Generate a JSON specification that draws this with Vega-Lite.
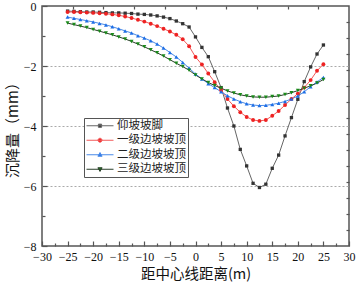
{
"$schema":"https://vega.github.io/schema/vega-lite/v6.json",
"width":307,"height":240,
"autosize":{"type":"none"},
"padding":{"left":42,"top":6,"right":9,"bottom":39},
"background":"white",
"config":{"view":{"stroke":"#555","strokeWidth":1.5},"font":"Liberation Serif"},
"datasets":{"d":[
{"s":"仰坡坡脚","x":-25,"y":-0.17},{"s":"仰坡坡脚","x":-23.75,"y":-0.18},{"s":"仰坡坡脚","x":-22.5,"y":-0.19},{"s":"仰坡坡脚","x":-21.25,"y":-0.2},{"s":"仰坡坡脚","x":-20,"y":-0.2},{"s":"仰坡坡脚","x":-18.75,"y":-0.21},{"s":"仰坡坡脚","x":-17.5,"y":-0.22},{"s":"仰坡坡脚","x":-16.25,"y":-0.23},{"s":"仰坡坡脚","x":-15,"y":-0.23},{"s":"仰坡坡脚","x":-13.75,"y":-0.24},{"s":"仰坡坡脚","x":-12.5,"y":-0.25},{"s":"仰坡坡脚","x":-11.25,"y":-0.27},{"s":"仰坡坡脚","x":-10,"y":-0.28},{"s":"仰坡坡脚","x":-8.75,"y":-0.3},{"s":"仰坡坡脚","x":-7.5,"y":-0.33},{"s":"仰坡坡脚","x":-6.25,"y":-0.37},{"s":"仰坡坡脚","x":-5,"y":-0.42},{"s":"仰坡坡脚","x":-3.75,"y":-0.5},{"s":"仰坡坡脚","x":-2.5,"y":-0.59},{"s":"仰坡坡脚","x":-1.25,"y":-0.7},{"s":"仰坡坡脚","x":0,"y":-1.03},{"s":"仰坡坡脚","x":1.25,"y":-1.38},{"s":"仰坡坡脚","x":2.5,"y":-1.69},{"s":"仰坡坡脚","x":3.75,"y":-2.19},{"s":"仰坡坡脚","x":5,"y":-2.72},{"s":"仰坡坡脚","x":6.25,"y":-3.4},{"s":"仰坡坡脚","x":7.5,"y":-4.0},{"s":"仰坡坡脚","x":8.75,"y":-4.78},{"s":"仰坡坡脚","x":10,"y":-5.33},{"s":"仰坡坡脚","x":11.25,"y":-5.91},{"s":"仰坡坡脚","x":12.5,"y":-6.05},{"s":"仰坡坡脚","x":13.75,"y":-5.94},{"s":"仰坡坡脚","x":15,"y":-5.41},{"s":"仰坡坡脚","x":16.25,"y":-4.97},{"s":"仰坡坡脚","x":17.5,"y":-4.33},{"s":"仰坡坡脚","x":18.75,"y":-3.72},{"s":"仰坡坡脚","x":20,"y":-3.11},{"s":"仰坡坡脚","x":21.25,"y":-2.52},{"s":"仰坡坡脚","x":22.5,"y":-2.03},{"s":"仰坡坡脚","x":23.75,"y":-1.6},{"s":"仰坡坡脚","x":25,"y":-1.3},
{"s":"一级边坡坡顶","x":-25,"y":-0.2},{"s":"一级边坡坡顶","x":-23.75,"y":-0.2},{"s":"一级边坡坡顶","x":-22.5,"y":-0.21},{"s":"一级边坡坡顶","x":-21.25,"y":-0.22},{"s":"一级边坡坡顶","x":-20,"y":-0.23},{"s":"一级边坡坡顶","x":-18.75,"y":-0.24},{"s":"一级边坡坡顶","x":-17.5,"y":-0.26},{"s":"一级边坡坡顶","x":-16.25,"y":-0.28},{"s":"一级边坡坡顶","x":-15,"y":-0.31},{"s":"一级边坡坡顶","x":-13.75,"y":-0.35},{"s":"一级边坡坡顶","x":-12.5,"y":-0.4},{"s":"一级边坡坡顶","x":-11.25,"y":-0.46},{"s":"一级边坡坡顶","x":-10,"y":-0.52},{"s":"一级边坡坡顶","x":-8.75,"y":-0.59},{"s":"一级边坡坡顶","x":-7.5,"y":-0.67},{"s":"一级边坡坡顶","x":-6.25,"y":-0.76},{"s":"一级边坡坡顶","x":-5,"y":-0.85},{"s":"一级边坡坡顶","x":-3.75,"y":-0.96},{"s":"一级边坡坡顶","x":-2.5,"y":-1.11},{"s":"一级边坡坡顶","x":-1.25,"y":-1.34},{"s":"一级边坡坡顶","x":0,"y":-1.7},{"s":"一级边坡坡顶","x":1.25,"y":-1.95},{"s":"一级边坡坡顶","x":2.5,"y":-2.25},{"s":"一级边坡坡顶","x":3.75,"y":-2.54},{"s":"一级边坡坡顶","x":5,"y":-2.8},{"s":"一级边坡坡顶","x":6.25,"y":-3.1},{"s":"一级边坡坡顶","x":7.5,"y":-3.34},{"s":"一级边坡坡顶","x":8.75,"y":-3.54},{"s":"一级边坡坡顶","x":10,"y":-3.7},{"s":"一级边坡坡顶","x":11.25,"y":-3.8},{"s":"一级边坡坡顶","x":12.5,"y":-3.83},{"s":"一级边坡坡顶","x":13.75,"y":-3.8},{"s":"一级边坡坡顶","x":15,"y":-3.66},{"s":"一级边坡坡顶","x":16.25,"y":-3.5},{"s":"一级边坡坡顶","x":17.5,"y":-3.3},{"s":"一级边坡坡顶","x":18.75,"y":-3.1},{"s":"一级边坡坡顶","x":20,"y":-2.92},{"s":"一级边坡坡顶","x":21.25,"y":-2.72},{"s":"一级边坡坡顶","x":22.5,"y":-2.47},{"s":"一级边坡坡顶","x":23.75,"y":-2.16},{"s":"一级边坡坡顶","x":25,"y":-1.94},
{"s":"二级边坡坡顶","x":-25,"y":-0.37},{"s":"二级边坡坡顶","x":-23.75,"y":-0.41},{"s":"二级边坡坡顶","x":-22.5,"y":-0.45},{"s":"二级边坡坡顶","x":-21.25,"y":-0.49},{"s":"二级边坡坡顶","x":-20,"y":-0.53},{"s":"二级边坡坡顶","x":-18.75,"y":-0.58},{"s":"二级边坡坡顶","x":-17.5,"y":-0.63},{"s":"二级边坡坡顶","x":-16.25,"y":-0.69},{"s":"二级边坡坡顶","x":-15,"y":-0.76},{"s":"二级边坡坡顶","x":-13.75,"y":-0.83},{"s":"二级边坡坡顶","x":-12.5,"y":-0.9},{"s":"二级边坡坡顶","x":-11.25,"y":-0.99},{"s":"二级边坡坡顶","x":-10,"y":-1.07},{"s":"二级边坡坡顶","x":-8.75,"y":-1.16},{"s":"二级边坡坡顶","x":-7.5,"y":-1.27},{"s":"二级边坡坡顶","x":-6.25,"y":-1.4},{"s":"二级边坡坡顶","x":-5,"y":-1.55},{"s":"二级边坡坡顶","x":-3.75,"y":-1.7},{"s":"二级边坡坡顶","x":-2.5,"y":-1.88},{"s":"二级边坡坡顶","x":-1.25,"y":-2.07},{"s":"二级边坡坡顶","x":0,"y":-2.27},{"s":"二级边坡坡顶","x":1.25,"y":-2.43},{"s":"二级边坡坡顶","x":2.5,"y":-2.59},{"s":"二级边坡坡顶","x":3.75,"y":-2.72},{"s":"二级边坡坡顶","x":5,"y":-2.86},{"s":"二级边坡坡顶","x":6.25,"y":-2.99},{"s":"二级边坡坡顶","x":7.5,"y":-3.1},{"s":"二级边坡坡顶","x":8.75,"y":-3.19},{"s":"二级边坡坡顶","x":10,"y":-3.26},{"s":"二级边坡坡顶","x":11.25,"y":-3.3},{"s":"二级边坡坡顶","x":12.5,"y":-3.32},{"s":"二级边坡坡顶","x":13.75,"y":-3.31},{"s":"二级边坡坡顶","x":15,"y":-3.28},{"s":"二级边坡坡顶","x":16.25,"y":-3.24},{"s":"二级边坡坡顶","x":17.5,"y":-3.18},{"s":"二级边坡坡顶","x":18.75,"y":-3.1},{"s":"二级边坡坡顶","x":20,"y":-3.0},{"s":"二级边坡坡顶","x":21.25,"y":-2.86},{"s":"二级边坡坡顶","x":22.5,"y":-2.69},{"s":"二级边坡坡顶","x":23.75,"y":-2.53},{"s":"二级边坡坡顶","x":25,"y":-2.38},
{"s":"三级边坡坡顶","x":-25,"y":-0.57},{"s":"三级边坡坡顶","x":-23.75,"y":-0.62},{"s":"三级边坡坡顶","x":-22.5,"y":-0.67},{"s":"三级边坡坡顶","x":-21.25,"y":-0.72},{"s":"三级边坡坡顶","x":-20,"y":-0.78},{"s":"三级边坡坡顶","x":-18.75,"y":-0.84},{"s":"三级边坡坡顶","x":-17.5,"y":-0.9},{"s":"三级边坡坡顶","x":-16.25,"y":-0.96},{"s":"三级边坡坡顶","x":-15,"y":-1.03},{"s":"三级边坡坡顶","x":-13.75,"y":-1.1},{"s":"三级边坡坡顶","x":-12.5,"y":-1.18},{"s":"三级边坡坡顶","x":-11.25,"y":-1.27},{"s":"三级边坡坡顶","x":-10,"y":-1.36},{"s":"三级边坡坡顶","x":-8.75,"y":-1.46},{"s":"三级边坡坡顶","x":-7.5,"y":-1.56},{"s":"三级边坡坡顶","x":-6.25,"y":-1.67},{"s":"三级边坡坡顶","x":-5,"y":-1.79},{"s":"三级边坡坡顶","x":-3.75,"y":-1.91},{"s":"三级边坡坡顶","x":-2.5,"y":-2.02},{"s":"三级边坡坡顶","x":-1.25,"y":-2.14},{"s":"三级边坡坡顶","x":0,"y":-2.3},{"s":"三级边坡坡顶","x":1.25,"y":-2.43},{"s":"三级边坡坡顶","x":2.5,"y":-2.55},{"s":"三级边坡坡顶","x":3.75,"y":-2.65},{"s":"三级边坡坡顶","x":5,"y":-2.74},{"s":"三级边坡坡顶","x":6.25,"y":-2.83},{"s":"三级边坡坡顶","x":7.5,"y":-2.9},{"s":"三级边坡坡顶","x":8.75,"y":-2.96},{"s":"三级边坡坡顶","x":10,"y":-3.0},{"s":"三级边坡坡顶","x":11.25,"y":-3.03},{"s":"三级边坡坡顶","x":12.5,"y":-3.04},{"s":"三级边坡坡顶","x":13.75,"y":-3.04},{"s":"三级边坡坡顶","x":15,"y":-3.02},{"s":"三级边坡坡顶","x":16.25,"y":-3.0},{"s":"三级边坡坡顶","x":17.5,"y":-2.95},{"s":"三级边坡坡顶","x":18.75,"y":-2.89},{"s":"三级边坡坡顶","x":20,"y":-2.82},{"s":"三级边坡坡顶","x":21.25,"y":-2.74},{"s":"三级边坡坡顶","x":22.5,"y":-2.66},{"s":"三级边坡坡顶","x":23.75,"y":-2.57},{"s":"三级边坡坡顶","x":25,"y":-2.45}
]},
"data":{"name":"d"},
"resolve":{"axis":{"x":"independent","y":"independent"}},
"layer":[
{"transform":[{"filter":"datum.s == '仰坡坡脚'"}],
 "mark":{"type":"line","strokeWidth":1,"color":"#666666"},
 "encoding":{
  "x":{"field":"x","type":"quantitative","scale":{"domain":[-30,30],"nice":false,"zero":false},
   "axis":{"orient":"bottom","values":[-30,-27.5,-25,-22.5,-20,-17.5,-15,-12.5,-10,-7.5,-5,-2.5,0,2.5,5,7.5,10,12.5,15,17.5,20,22.5,25,27.5,30],
    "labelExpr":"datum.value % 5 == 0 ? datum.label : ''",
    "tickSize":{"condition":{"test":"datum.value % 5 == 0","value":-5},"value":-3},
    "labelPadding":10.5,"domain":false,"grid":false,"tickColor":"#555","tickWidth":1.2,
    "labelFont":"Liberation Serif","labelFontSize":12,"labelColor":"#111","labelFlush":false,"labelOverlap":false,
    "title":"距中心线距离(m)","titleFont":"Noto Sans CJK SC","titleFontSize":14.5,"titleFontWeight":"normal","titleColor":"#111","titlePadding":3}},
  "y":{"field":"y","type":"quantitative","scale":{"domain":[-8,0],"nice":false,"zero":false},
   "axis":{"orient":"left","values":[0,-1,-2,-3,-4,-5,-6,-7,-8],
    "labelExpr":"datum.value % 2 == 0 ? datum.label : ''",
    "tickSize":{"condition":{"test":"datum.value % 2 == 0","value":-5},"value":-3},
    "labelPadding":11,"domain":false,"tickColor":"#555","tickWidth":1.2,
    "grid":true,"gridColor":"#aaa","gridDash":[2,2],"gridWidth":1,
    "gridOpacity":{"condition":{"test":"datum.value == -2 || datum.value == -4 || datum.value == -6","value":1},"value":0},
    "labelFont":"Liberation Serif","labelFontSize":12,"labelColor":"#111","labelFlush":false,"labelOverlap":false,
    "title":"沉降量（mm）","titleFont":"Noto Sans CJK SC","titleFontSize":15,"titleFontWeight":"normal","titleColor":"#111","titlePadding":3}}
 }},
{"transform":[{"filter":"datum.s == '一级边坡坡顶'"}],
 "mark":{"type":"line","strokeWidth":1,"color":"#f25a5a"},
 "encoding":{"x":{"field":"x","type":"quantitative","axis":null},"y":{"field":"y","type":"quantitative","axis":null}}},
{"transform":[{"filter":"datum.s == '二级边坡坡顶'"}],
 "mark":{"type":"line","strokeWidth":1,"color":"#4a8ae8"},
 "encoding":{"x":{"field":"x","type":"quantitative","axis":null},"y":{"field":"y","type":"quantitative","axis":null}}},
{"transform":[{"filter":"datum.s == '三级边坡坡顶'"}],
 "mark":{"type":"line","strokeWidth":1,"color":"#2a3f2a"},
 "encoding":{"x":{"field":"x","type":"quantitative","axis":null},"y":{"field":"y","type":"quantitative","axis":null}}},
{"transform":[{"filter":"datum.s == '仰坡坡脚'"}],
 "mark":{"type":"point","shape":"square","filled":true,"color":"#333333","opacity":1,"size":11},
 "encoding":{"x":{"field":"x","type":"quantitative","axis":null},"y":{"field":"y","type":"quantitative","axis":null}}},
{"transform":[{"filter":"datum.s == '一级边坡坡顶'"}],
 "mark":{"type":"point","shape":"circle","filled":true,"color":"#ee2222","opacity":1,"size":15},
 "encoding":{"x":{"field":"x","type":"quantitative","axis":null},"y":{"field":"y","type":"quantitative","axis":null}}},
{"transform":[{"filter":"datum.s == '二级边坡坡顶'"}],
 "mark":{"type":"point","shape":"triangle-up","filled":true,"color":"#1e6fe6","opacity":1,"size":16},
 "encoding":{"x":{"field":"x","type":"quantitative","axis":null},"y":{"field":"y","type":"quantitative","axis":null}}},
{"transform":[{"filter":"datum.s == '三级边坡坡顶'"}],
 "mark":{"type":"point","shape":"triangle-down","filled":true,"color":"#1a8a1a","opacity":1,"size":16},
 "encoding":{"x":{"field":"x","type":"quantitative","axis":null},"y":{"field":"y","type":"quantitative","axis":null}}},
{"mark":{"type":"point","filled":true,"opacity":0,"size":16,"strokeWidth":1},
 "encoding":{
  "x":{"field":"x","type":"quantitative","axis":{"orient":"top","values":[-24,-18,-12,-6,0,6,12,18,24],"labels":false,"tickSize":-3,"tickColor":"#555","tickWidth":1.2,"domain":false,"grid":false,"title":null}},
  "y":{"field":"y","type":"quantitative","axis":{"orient":"right","values":[-0.533,-1.067,-1.6,-2.133,-2.667,-3.2,-3.733,-4.267,-4.8,-5.333,-5.867,-6.4,-6.933,-7.467],"labels":false,"tickSize":-3,"tickColor":"#555","tickWidth":1.2,"domain":false,"grid":false,"title":null}},
  "fill":{"field":"s","type":"nominal",
   "scale":{"domain":["仰坡坡脚","一级边坡坡顶","二级边坡坡顶","三级边坡坡顶"],"range":["#333333","#ee2222","#1e6fe6","#1a8a1a"]},
   "legend":{"orient":"none","legendX":42,"legendY":112,"title":null,"strokeColor":"#555","fillColor":"white","padding":2,
    "labelFont":"Noto Sans CJK SC","labelFontSize":11.5,"labelColor":"#222","labelLimit":300,"symbolSize":16,"symbolStrokeWidth":1,"rowPadding":1.5,"labelOffset":27,
    "encode":{"symbols":{"update":{"x":{"value":14},"stroke":{"signal":"datum.value == '仰坡坡脚' ? '#666666' : datum.value == '一级边坡坡顶' ? '#f25a5a' : datum.value == '二级边坡坡顶' ? '#4a8ae8' : '#2a3f2a'"},"strokeWidth":{"value":1},"opacity":{"value":1}}},"labels":{"update":{"x":{"value":31}}}}}},
  "shape":{"field":"s","type":"nominal",
   "scale":{"domain":["仰坡坡脚","一级边坡坡顶","二级边坡坡顶","三级边坡坡顶"],
    "range":["M-6.75,0L6.75,0M-0.8,-0.8L0.8,-0.8L0.8,0.8L-0.8,0.8Z","M-6.75,0L6.75,0M1,0A1,1,0,1,1,-1,0A1,1,0,1,1,1,0Z","M-6.75,0L6.75,0M0,-1.1L1.05,0.75L-1.05,0.75Z","M-6.75,0L6.75,0M0,1.1L1.05,-0.75L-1.05,-0.75Z"]},
   "legend":{"orient":"none","legendX":42,"legendY":112,"title":null,"strokeColor":"#555","fillColor":"white","padding":2,
    "labelFont":"Noto Sans CJK SC","labelFontSize":11.5,"labelColor":"#222","labelLimit":300,"symbolSize":16,"symbolStrokeWidth":1,"rowPadding":1.5,"labelOffset":27,
    "encode":{"symbols":{"update":{"x":{"value":14},"stroke":{"signal":"datum.value == '仰坡坡脚' ? '#666666' : datum.value == '一级边坡坡顶' ? '#f25a5a' : datum.value == '二级边坡坡顶' ? '#4a8ae8' : '#2a3f2a'"},"strokeWidth":{"value":1},"opacity":{"value":1}}},"labels":{"update":{"x":{"value":31}}}}}}
 }}
]
}
